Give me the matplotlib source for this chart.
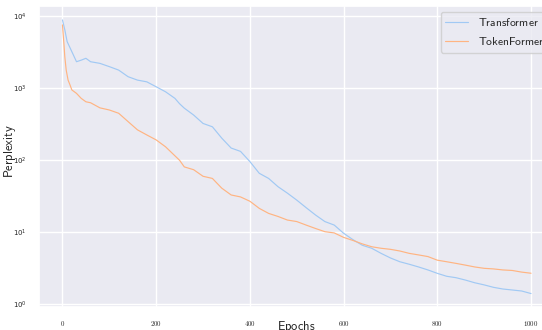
import matplotlib
matplotlib.use("Agg")
import matplotlib.pyplot as plt
import seaborn as sns
from matplotlib.ticker import FuncFormatter

# values (log-scale perplexity vs epoch)
epochs_tr = [0, 5, 10, 20, 30, 40, 50, 60, 80, 100, 120, 140, 160, 180, 200,
             220, 240, 250, 260, 280, 300, 320, 340, 360, 380, 400, 420, 440,
             460, 480, 500, 520, 540, 560, 580, 600, 620, 640, 660, 680, 700,
             720, 740, 760, 780, 800, 820, 840, 860, 880, 900, 920, 940, 960,
             980, 1000]
transformer = [8900, 6500, 4450, 3230, 2340, 2460, 2610, 2340, 2220, 2000,
               1790, 1450, 1300, 1230, 1050, 895, 725, 610, 530, 425, 325, 292,
               203, 148, 133, 96, 66, 56, 43, 35, 28, 22, 17.4, 14.1, 12.6,
               9.7, 7.9, 6.6, 6.0, 5.1, 4.4, 3.9, 3.6, 3.3, 3.0, 2.69, 2.45,
               2.34, 2.17, 1.99, 1.86, 1.72, 1.63, 1.58, 1.53, 1.41]

epochs_tf = [0, 3, 5, 8, 12, 16, 20, 30, 40, 50, 60, 80, 100, 120, 140, 160,
             180, 200, 220, 250, 260, 280, 300, 320, 340, 360, 380, 400, 420,
             440, 460, 480, 500, 520, 540, 560, 580, 600, 620, 640, 660, 680,
             700, 720, 740, 760, 780, 800, 820, 840, 860, 880, 900, 920, 940,
             960, 980, 1000]
tokenformer = [7600, 4250, 2750, 1790, 1300, 1120, 950, 850, 725, 650, 630,
               535, 500, 450, 345, 265, 225, 192, 154, 100, 81, 74, 60, 56, 41,
               33, 31, 27, 21.5, 18.3, 16.6, 14.8, 14.1, 12.6, 11.3, 10.2, 9.8,
               8.5, 7.7, 6.9, 6.3, 6.0, 5.8, 5.5, 5.1, 4.85, 4.6, 4.1, 3.9, 3.7,
               3.5, 3.3, 3.16, 3.1, 3.0, 2.95, 2.8, 2.7]

sns.set_theme(style="darkgrid", palette="pastel")
plt.rcParams["mathtext.fontset"] = "cm"

fig = plt.figure(figsize=(5.42, 3.30), dpi=100)
ax = fig.add_axes([0.072, 0.0706, 0.951, 0.9112])

colors = sns.color_palette("pastel")
ax.plot(epochs_tr, transformer, color=colors[0], lw=0.85,
        label=r"$\mathsf{Transformer}$")
ax.plot(epochs_tf, tokenformer, color=colors[1], lw=0.85,
        label=r"$\mathsf{TokenFormer}$")

ax.set_yscale("log")
ax.set_xlim(-50, 1050)
ax.set_ylim(0.926, 13900)
ax.set_xticks([0, 200, 400, 600, 800, 1000])
ax.xaxis.set_major_formatter(FuncFormatter(lambda v, p: f"${v:g}$"))
ax.tick_params(axis="both", labelsize=5, pad=3)
ax.minorticks_off()

ax.set_xlabel(r"$\mathsf{Epochs}$", fontsize=9)
ax.set_ylabel(r"$\mathsf{Perplexity}$", fontsize=9)
ax.xaxis.set_label_coords(0.5, -0.040)
ax.yaxis.set_label_coords(-0.040, 0.518)
ax.legend(loc="upper right", fontsize=8.3)

fig.savefig("out.png", dpi=100)
